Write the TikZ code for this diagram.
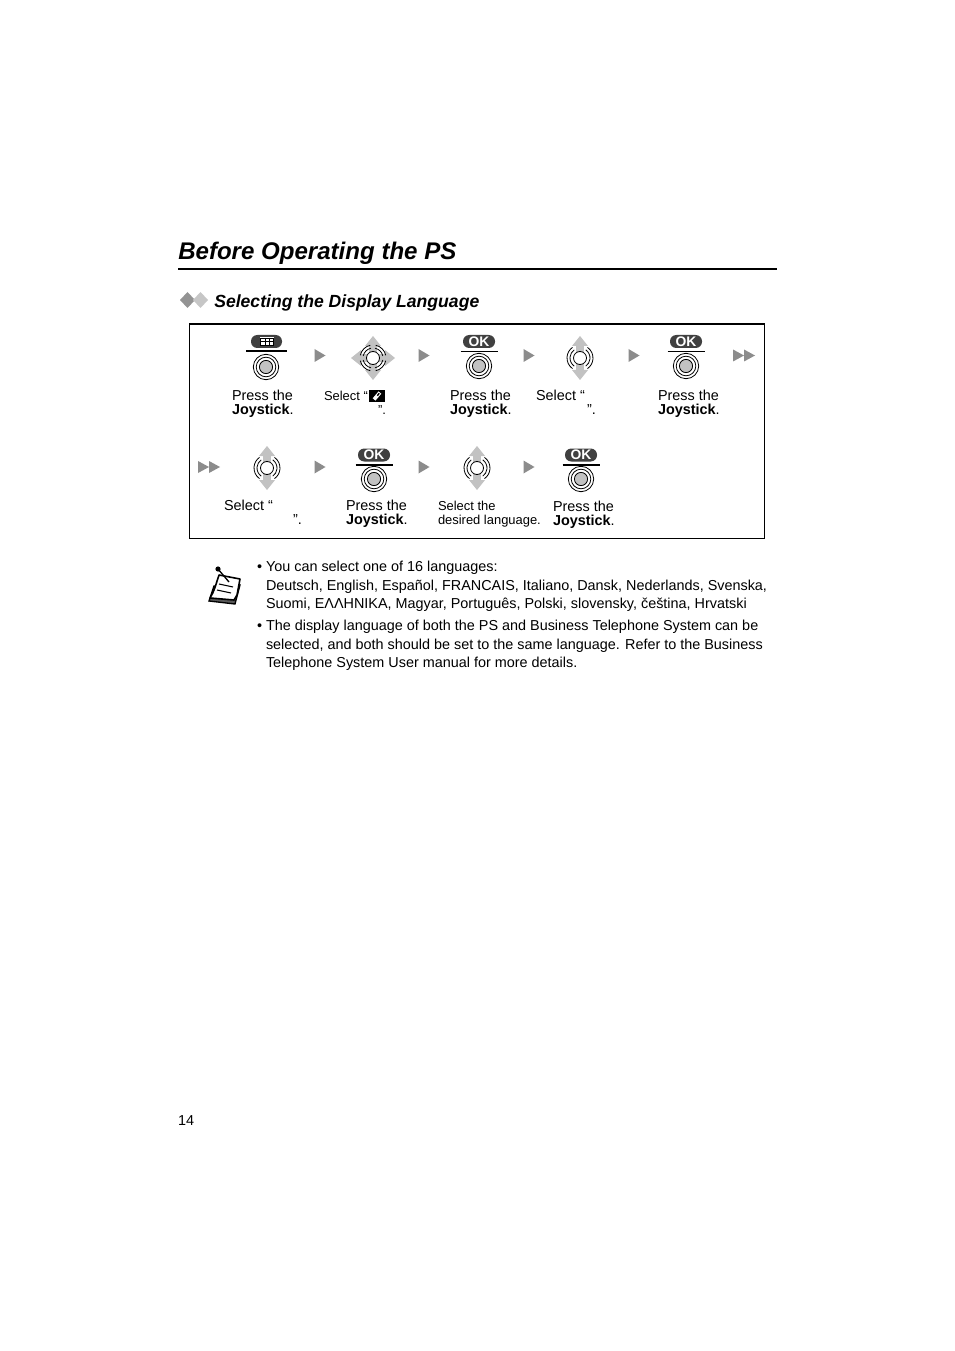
\documentclass[tikz,border=0pt]{standalone}
\usepackage{fontspec}
\setmainfont{Liberation Sans}
\definecolor{arrowgray}{gray}{0.55}
\definecolor{dirgray}{gray}{0.76}
\definecolor{pillgray}{gray}{0.25}
\newcommand{\arcset}[2]{%
  \foreach \a in {#1} {
    \draw[line width=.6] (\a-#2:10) arc (\a-#2:\a+#2:10);
    \draw[line width=.6] (\a-#2:13) arc (\a-#2:\a+#2:13);
  }}
\tikzset{
  x=0.75pt,y=-0.75pt,
  body/.style={anchor=base west,inner sep=0,outer sep=0,font=\fontsize{10.8pt}{12pt}\selectfont},
  small/.style={anchor=base west,inner sep=0,outer sep=0,font=\fontsize{9.7pt}{11pt}\selectfont},
  note/.style={anchor=base west,inner sep=0,outer sep=0,font=\fontsize{10.8pt}{12pt}\selectfont},
  step arrow/.pic={\fill[arrowgray] (-5.5,-6.5) -- (5.5,0) -- (-5.5,6.5) -- cycle;},
  double arrow/.pic={\fill[arrowgray] (-11,-6) -- (0,0) -- (-11,6) -- cycle;
                     \fill[arrowgray] (0,-6) -- (11,0) -- (0,6) -- cycle;},
  press/.pic={
    \draw[line width=.6] (0,0) circle (12.7);
    \draw[line width=.6] (0,0) circle (9.8);
    \draw[line width=.6,fill=dirgray] (0,0) circle (6.6);
  },
  okbtn/.pic={
    \fill[pillgray,rounded corners=4.7pt] (-16,-6.5) rectangle (16,6.5);
    \node[inner sep=0,text=white,font=\bfseries\fontsize{10.4pt}{11pt}\selectfont] (oklabel) at (0,0.2) {OK};
    \draw[line width=.8] (-18.5,10) -- (18.5,10);
  },
  ud/.pic={
    \fill[dirgray] (0,-22) -- (8,-12) -- (3.8,-12) -- (3.8,12) -- (8,12) -- (0,22) -- (-8,12) -- (-3.8,12) -- (-3.8,-12) -- (-8,-12) -- cycle;
    \arcset{0,180}{55}
    \draw[line width=.6,fill=white] (0,0) circle (6.5);
  },
  fourway/.pic={
    \fill[dirgray] (0,-22) -- (8,-12) -- (-8,-12) -- cycle;
    \fill[dirgray] (0,22) -- (8,12) -- (-8,12) -- cycle;
    \fill[dirgray] (-22,0) -- (-12,8) -- (-12,-8) -- cycle;
    \fill[dirgray] (22,0) -- (12,8) -- (12,-8) -- cycle;
    \fill[dirgray] (-13,-3.8) rectangle (13,3.8);
    \fill[dirgray] (-3.8,-13) rectangle (3.8,13);
    \arcset{45,135,225,315}{33}
    \draw[line width=.6,fill=white] (0,0) circle (6.5);
  },
}
\begin{document}
\begin{tikzpicture}[x=0.75pt,y=-0.75pt]
\useasboundingbox (0,0) rectangle (954,1351);
\fill[white] (0,0) rectangle (954,1351);

% heading
\node[anchor=base west,inner sep=0,font=\bfseries\itshape\fontsize{18.05pt}{22pt}\selectfont] (title) at (178,260) {Before Operating the PS};
\coordinate (ruleL) at (178,269);
\coordinate (ruleR) at (777,269);
\draw[line width=1.3] (ruleL) -- (ruleR);

\fill[gray!85] (180,300) -- (187.5,292) -- (195,300) -- (187.5,308) -- cycle;
\fill[gray!45] (193,300) -- (200.5,292) -- (208,300) -- (200.5,308) -- cycle;
\node[anchor=base west,inner sep=0,font=\bfseries\itshape\fontsize{13.2pt}{15pt}\selectfont] (sub) at (214,307.5) {Selecting the Display Language};

% frame
\node[draw,line width=.8,minimum width=431pt,minimum height=160.5pt,inner sep=0,anchor=north west] (frame) at (189,323.5) {};

% row 1
\fill[pillgray,rounded corners=4.7pt] (251,335) rectangle (282,348);
\fill[white] (260,337.5) rectangle (274,345.5);
\draw[line width=.35] (260.5,338) rectangle (273.5,345)
  (265,338) -- (265,345) (269,338) -- (269,345) (260.5,341.5) -- (273.5,341.5);
\draw[line width=.8] (246,351) -- (287,351);
\pic at (266,367) {press};
\pic at (320,355.5) {step arrow};
\pic at (373,358) {fourway};
\pic at (424,355.5) {step arrow};
\pic at (479,341.5) {okbtn};
\pic at (479,366) {press};
\pic at (529,355.5) {step arrow};
\pic at (580,358) {ud};
\pic at (634,355.5) {step arrow};
\pic at (686,341.5) {okbtn};
\pic at (686,366) {press};
\pic at (744,355.5) {double arrow};

\node[body] (t1a) at (232,400) {Press the};
\node[body] (t1b) at (232,414) {\textbf{Joystick}.};
\node[small] (t2a) at (324,400) {Select “};
\fill[black] (369,390) rectangle (385,402);
\fill[white,rotate around={50:(377,396)}] (372.5,394.2) rectangle (381.5,397.8);
\fill[black,rotate around={50:(377,396)}] (377.5,395.3) rectangle (380.5,396.7);
\node[small] (t2b) at (378,414) {”.};
\node[body] (t3a) at (450,400) {Press the};
\node[body] (t3b) at (450,414) {\textbf{Joystick}.};
\node[body] (t4a) at (536,400) {Select “};
\node[body] (t4b) at (587,414) {”.};
\node[body] (t5a) at (658,400) {Press the};
\node[body] (t5b) at (658,414) {\textbf{Joystick}.};

% row 2
\pic at (209,467) {double arrow};
\pic at (267,468) {ud};
\pic at (320,467) {step arrow};
\pic at (374,455) {okbtn};
\pic at (374,479) {press};
\pic at (424,467) {step arrow};
\pic at (477,468) {ud};
\pic at (529,467) {step arrow};
\pic at (581,455) {okbtn};
\pic at (581,479) {press};

\node[body] (t6a) at (224,510) {Select “};
\node[body] (t6b) at (293,524) {”.};
\node[body] (t7a) at (346,510) {Press the};
\node[body] (t7b) at (346,524) {\textbf{Joystick}.};
\node[small] (t8a) at (438,510) {Select the};
\node[small] (t8b) at (438,524) {desired language.};
\node[body] (t9a) at (553,511) {Press the};
\node[body] (t9b) at (553,525) {\textbf{Joystick}.};

% note icon
\draw[line width=1,fill=black!65] (214,586) -- (209,601) -- (235,604) -- (240,585) -- cycle;
\draw[line width=1.2,fill=white,line join=round] (219,575) -- (240,579) -- (237,595) -- (234,600) -- (210,598) .. controls (214,592) and (216,584) .. (219,575) -- cycle;
\draw[line width=.8] (219,584) -- (233,587) (217,590) -- (231,593);
\fill (218,569) circle (2.6);
\draw[line width=1] (218,569) -- (229,582);

% note text
\node[note] (b1) at (257,571) {•};
\node[note] (n1) at (266,571) {You can select one of 16 languages:};
\node[note] (n2) at (266,590) {Deutsch, English, Español, FRANCAIS, Italiano, Dansk, Nederlands, Svenska,};
\node[note] (n3) at (266,608) {Suomi, EΛΛHNIKA, Magyar, Português, Polski, slovensky, čeština, Hrvatski};
\node[note] (b2) at (257,630) {•};
\node[note] (n4) at (266,630) {The display language of both the PS and Business Telephone System can be};
\node[note] (n5) at (266,649) {selected, and both should be set to the same language. Refer to the Business};
\node[note] (n6) at (266,667) {Telephone System User manual for more details.};

\node[body] (page) at (178,1125) {14};
\end{tikzpicture}
\end{document}
